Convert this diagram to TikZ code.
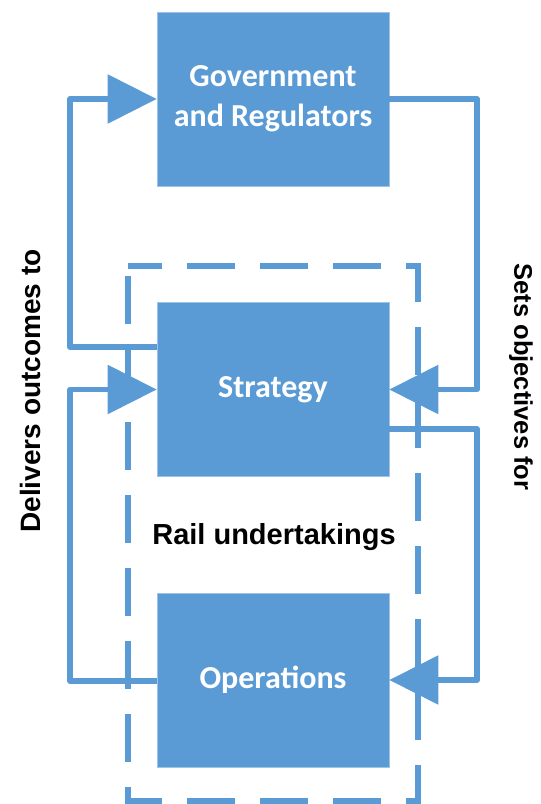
\documentclass[tikz,border=0pt]{standalone}
\usepackage{fontspec}
\setmainfont{Liberation Sans}
\newfontfamily\boxfont{Carlito}
\usetikzlibrary{arrows.meta}
\definecolor{railblue}{HTML}{5B9BD5}

\begin{document}
\begin{tikzpicture}[x=1pt,y=-1pt,
    unit/.style={fill=railblue, draw=railblue!60!white, line width=0.6pt,
      minimum width=232pt, minimum height=174pt, inner sep=0pt,
      text=white, align=center, font=\boxfont\bfseries\fontsize{32}{40}\selectfont},
    flow/.style={railblue, line width=5.5pt, line join=round,
      -{Triangle[length=49pt,width=48pt]}},
    sidelabel/.style={font=\bfseries\fontsize{28}{32}\selectfont}]
        \useasboundingbox (0,0) rectangle (541,804);

        % Dashed boundary of the rail undertakings
        \draw[railblue, line width=5.5pt, dash pattern=on 48pt off 25pt, dash phase=14pt]
          (128,266) -- (418,266) -- (418,801) -- (128,801) -- cycle;

        % Boxes
        \node[unit] (gov) at (273,99) {Government\\and Regulators};
        \node[unit] (strat) at (273,389.5) {Strategy};
        \node[unit] (ops) at (273,680) {Operations};

        \node[font=\bfseries\fontsize{29}{32}\selectfont] (rail) at (274,537) {Rail undertakings};

        % Return lines on both sides
        \coordinate (lbus) at (70,0);
        \coordinate (rbus) at (477,0);

        % Delivers outcomes to
        \draw[flow] ([yshift=42.5pt]strat.west) -| (lbus |- gov.west) -- (gov.west);
        \draw[flow] ([yshift=-1pt]ops.west) -| (lbus |- strat.west) -- (strat.west);

        % Sets objectives for
        \draw[flow] (gov.east) -| (rbus |- strat.east) -- (strat.east);
        \draw[flow] ([yshift=-39.5pt]strat.east) -| (rbus |- ops.east) -- (ops.east);

        % Side labels
        \node[sidelabel, rotate=90] (deliver) at (30,391) {Delivers outcomes to};
        \node[sidelabel, rotate=-90, font=\bfseries\fontsize{25.5}{30}\selectfont] (sets) at (521,377) {Sets objectives for};
    \end{tikzpicture}
\end{document}
